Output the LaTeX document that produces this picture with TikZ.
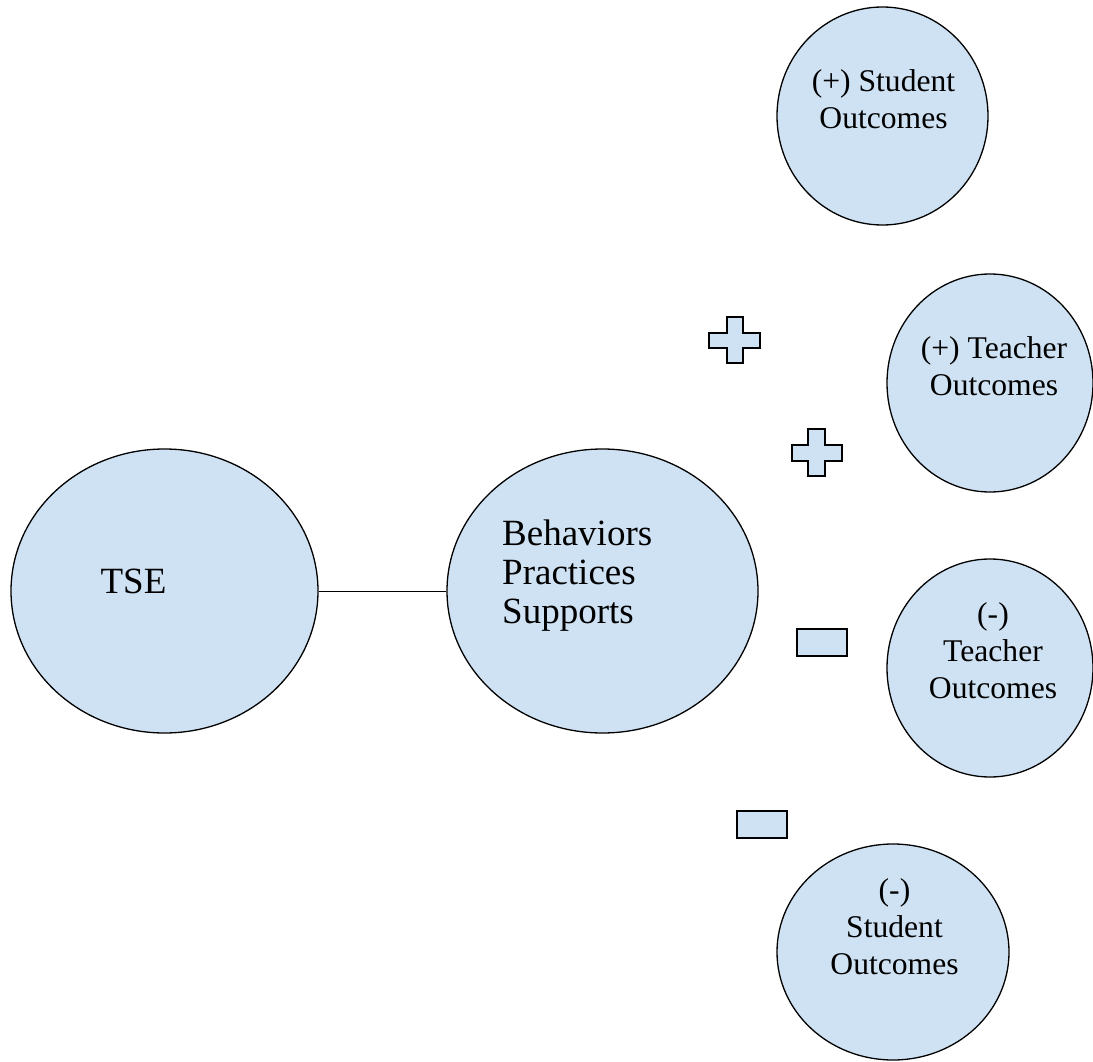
\documentclass[tikz,border=0pt]{standalone}
\usepackage{fontspec}
\setmainfont{Liberation Serif}
\usetikzlibrary{shapes.geometric}
\definecolor{lblue}{HTML}{CFE2F3}
\tikzset{
  oval/.style={ellipse, draw=black, fill=lblue, line width=1.3pt, inner sep=0pt},
  sym/.style={draw=black, fill=lblue, line width=1.4pt},
  link/.style={draw=black, line width=1pt},
  bigtxt/.style={inner sep=0pt, font=\fontsize{37}{39}\selectfont},
  smalltxt/.style={inner sep=0pt, font=\fontsize{31.6}{37}\selectfont}
}
\begin{document}
\begin{tikzpicture}[x=1pt,y=-1pt]
\useasboundingbox[fill=white] (0,0) rectangle (1093,1062);
% ellipses
\node[oval, minimum width=307pt, minimum height=284pt] (tse) at (164.5,591) {};
\node[oval, minimum width=311pt, minimum height=284pt] (bps) at (602.5,591) {};
\node[oval, minimum width=211pt, minimum height=218pt] (ps) at (882.5,116) {};
\node[oval, minimum width=206pt, minimum height=218pt] (pt) at (990,383) {};
\node[oval, minimum width=206pt, minimum height=218pt] (mt) at (990,668) {};
\node[oval, minimum width=232pt, minimum height=216pt] (ms) at (893,952) {};
% connector
\draw[link] (tse) -- (bps);
% texts
\node[bigtxt, anchor=base] (tsetxt) at (133.5,593) {TSE};
\node[bigtxt, anchor=base west] (bpstxt) at (502,545)
  {\begin{tabular}[t]{@{}l@{}}Behaviors\\Practices\\Supports\end{tabular}};
\node[smalltxt, anchor=base] (pstxt) at (883.5,92)
  {\begin{tabular}[t]{@{}c@{}}(+) Student\\Outcomes\end{tabular}};
\node[smalltxt, anchor=base] (pttxt) at (994,358)
  {\begin{tabular}[t]{@{}c@{}}(+) Teacher\\Outcomes\end{tabular}};
\node[smalltxt, anchor=base] (mttxt) at (993,624)
  {\begin{tabular}[t]{@{}c@{}}(-)\\Teacher\\Outcomes\end{tabular}};
\node[smalltxt, anchor=base] (mstxt) at (894.5,900)
  {\begin{tabular}[t]{@{}c@{}}(-)\\Student\\Outcomes\end{tabular}};
% plus signs
\draw[sym] (727,317) -- (743,317) -- (743,333) -- (760,333) -- (760,348) -- (743,348)
  -- (743,363) -- (727,363) -- (727,348) -- (709,348) -- (709,333) -- (727,333) -- cycle;
\draw[sym] (808,429) -- (825,429) -- (825,445) -- (842,445) -- (842,461) -- (825,461)
  -- (825,476) -- (808,476) -- (808,461) -- (792,461) -- (792,445) -- (808,445) -- cycle;
% minus signs
\draw[sym] (797,629) rectangle (847,656);
\draw[sym] (737,811) rectangle (787,838);
\end{tikzpicture}
\end{document}
